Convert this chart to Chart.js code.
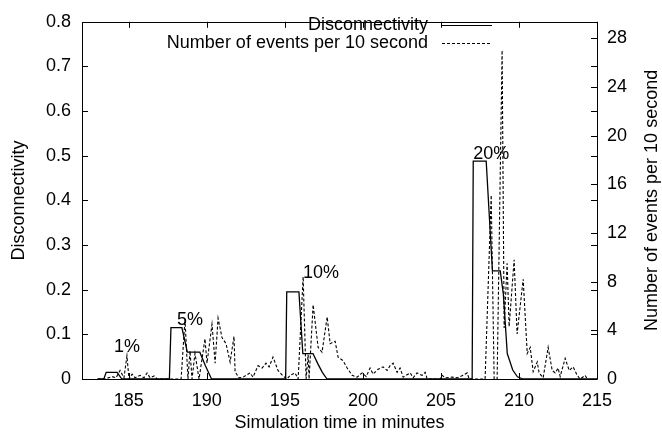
<!DOCTYPE html>
<html>
<head>
<meta charset="utf-8">
<title>Disconnectivity vs events</title>
<script src="https://cdn.jsdelivr.net/npm/chart.js"></script>
<style>
  html, body { margin: 0; padding: 0; background: #fff; }
</style>
</head>
<body>
<canvas id="chart" width="662" height="437"></canvas>
<script>
// solid line, left axis
const discTime  = [183.0, 183.4, 183.55, 184.25, 184.55, 187.6, 187.7, 188.4, 188.75, 189.55, 189.9, 190.3,
                   195.05, 195.12, 195.9, 196.15, 196.8, 197.1, 197.4, 197.7,
                   207.0, 207.07, 207.9, 208.3, 208.8, 209.0, 209.25, 209.6, 209.9, 210.25, 215.0];
const discValue = [0, 0, 0.015, 0.015, 0, 0, 0.115, 0.115, 0.06, 0.06, 0.03, 0,
                   0, 0.195, 0.195, 0.057, 0.057, 0.035, 0.015, 0,
                   0, 0.488, 0.488, 0.242, 0.242, 0.19, 0.057, 0.02, 0.005, 0, 0];

// dashed line, right axis
const eventTime  = [183.0, 183.47, 183.92, 184.18, 184.44, 184.69, 184.88, 185.01, 185.21, 185.40, 185.72, 185.97,
                    186.17, 186.36, 186.62, 186.81, 188.35, 188.60, 188.79, 188.92, 189.05, 189.24, 189.50,
                    189.88, 190.01, 190.33, 190.53, 190.72, 190.97, 191.23, 191.49, 191.74, 191.81, 192.06,
                    192.32, 192.77, 192.96, 193.28, 193.54, 193.79, 193.99, 194.24, 194.56, 194.88, 195.14,
                    195.33, 195.65, 195.85, 196.17, 196.36, 196.49, 196.55, 196.81, 197.13, 197.38, 197.71,
                    197.90, 198.22, 198.41, 198.73, 198.99, 199.31, 199.63, 199.95, 200.21, 200.46, 200.65,
                    200.97, 201.29, 201.55, 201.74, 201.94, 202.19, 202.38, 202.58, 203.03, 203.22, 203.47,
                    203.79, 203.99, 204.12, 204.95, 205.08, 205.27, 205.72, 206.04, 206.42, 206.68, 206.81,
                    207.83, 208.22, 208.41, 208.60, 208.92, 209.05, 209.24, 209.37, 209.69, 209.88, 210.27,
                    210.53, 210.72, 210.91, 211.17, 211.29, 211.55, 211.87, 212.13, 212.32, 212.51, 212.64,
                    212.96, 213.22, 213.47, 213.73, 213.92, 214.24, 214.37];
const eventCount = [0, 0, 0.2, 0.1, 0.7, 0.1, 1.9, 0, 0.4, 0.1, 0.3, 0.1,
                    0.5, 0.1, 0.25, 0, 0, 4.9, 0, 2.3, 0, 2.1, 0,
                    3.3, 1.3, 4.5, 1.3, 5.0, 3.4, 2.9, 1.4, 3.5, 0.6, 0.1,
                    0.15, 0.5, 0.15, 1.1, 0.9, 1.3, 1.0, 1.8, 0.7, 0.25, 0,
                    0.3, 0.5, 0, 8.4, 0, 2.0, 0, 6.1, 2.6, 2.2, 5.1,
                    2.9, 3.1, 1.8, 1.5, 0.9, 0.3, 0.15, 0.5, 0.2, 0.9, 0.4,
                    0.8, 1.0, 0.7, 1.1, 1.3, 0.55, 0.9, 0.15, 0.5, 0.1, 0.5,
                    0.3, 0.55, 0, 0, 0.3, 0.1, 0.15, 0.1, 0.3, 0.5, 0,
                    0, 15.1, 0, 0, 27.0, 4.2, 9.5, 4.3, 9.8, 3.7, 8.2,
                    2.1, 2.6, 0.6, 1.4, 0.5, 0.1, 2.6, 0.7, 0.5, 0.9, 0.2,
                    1.7, 0.7, 1.0, 0.3, 0, 0.3, 0];

const xTicks = [185, 190, 195, 200, 205, 210, 215];
const leftTicks = [0, 0.1, 0.2, 0.3, 0.4, 0.5, 0.6, 0.7, 0.8];
const rightTicks = [0, 4, 8, 12, 16, 20, 24, 28];

const failLabel = ['1%', '5%', '10%', '20%'];
const failTime  = [184.88, 188.92, 197.32, 208.22];
const failLevel = [0.072, 0.131, 0.238, 0.503];

const FONT = '"Liberation Sans", Arial, Helvetica, sans-serif';
const FS = 18;

function pts(xs, ys) {
  return xs.map((x, i) => ({ x: x, y: ys[i] }));
}

const extras = {
  id: 'extras',
  afterDatasetsDraw(chart) {
    const ctx = chart.ctx;
    const a = chart.chartArea;
    const sx = chart.scales.x, sy = chart.scales.y, sy2 = chart.scales.y2;
    ctx.save();
    ctx.strokeStyle = '#000';
    ctx.lineWidth = 1;
    ctx.setLineDash([]);
    ctx.beginPath();
    ctx.rect(Math.round(a.left) + 0.5, Math.round(a.top) + 0.5,
             Math.round(a.right - a.left), Math.round(a.bottom - a.top));
    ctx.stroke();

    // inward tick marks
    ctx.beginPath();
    xTicks.forEach(v => {
      const px = Math.round(sx.getPixelForValue(v)) + 0.5;
      ctx.moveTo(px, a.bottom); ctx.lineTo(px, a.bottom - 6);
      ctx.moveTo(px, a.top); ctx.lineTo(px, a.top + 6);
    });
    leftTicks.forEach(v => {
      const py = Math.round(sy.getPixelForValue(v)) + 0.5;
      ctx.moveTo(a.left, py); ctx.lineTo(a.left + 6, py);
      ctx.moveTo(a.right, py); ctx.lineTo(a.right - 6, py);
    });
    rightTicks.forEach(v => {
      const py = Math.round(sy2.getPixelForValue(v)) + 0.5;
      ctx.moveTo(a.right, py); ctx.lineTo(a.right - 6, py);
    });
    ctx.stroke();

    ctx.fillStyle = '#000';
    ctx.font = FS + 'px ' + FONT;

    // legend
    const rows = [
      { text: 'Disconnectivity', dash: [], y: 25 },
      { text: 'Number of events per 10 second', dash: [3, 2], y: 43 }
    ];
    ctx.textAlign = 'right';
    ctx.textBaseline = 'middle';
    rows.forEach(r => {
      ctx.fillText(r.text, 428, r.y);
      ctx.setLineDash(r.dash);
      ctx.beginPath();
      ctx.moveTo(442, r.y + 0.5);
      ctx.lineTo(492, r.y + 0.5);
      ctx.stroke();
    });
    ctx.setLineDash([]);

    // failure percentage labels
    ctx.textAlign = 'center';
    failLabel.forEach((t, i) => {
      ctx.fillText(t, sx.getPixelForValue(failTime[i]), sy.getPixelForValue(failLevel[i]));
    });

    // right axis title, reading upwards
    ctx.translate(652, (a.top + a.bottom) / 2);
    ctx.rotate(-Math.PI / 2);
    ctx.fillText('Number of events per 10 second', 0, 0);
    ctx.restore();
  }
};

new Chart(document.getElementById('chart'), {
  type: 'line',
  data: {
    datasets: [
      {
        label: 'Disconnectivity',
        data: pts(discTime, discValue),
        yAxisID: 'y',
        borderColor: '#000',
        borderWidth: 1.3,
        pointRadius: 0,
        tension: 0,
        fill: false
      },
      {
        label: 'Number of events per 10 second',
        data: pts(eventTime, eventCount),
        yAxisID: 'y2',
        borderColor: '#000',
        borderWidth: 1.1,
        borderDash: [3, 2],
        pointRadius: 0,
        tension: 0,
        fill: false
      }
    ]
  },
  options: {
    responsive: false,
    animation: false,
    devicePixelRatio: 1,
    layout: { padding: { top: 12, left: 0, right: 0, bottom: 0 } },
    plugins: { legend: { display: false }, tooltip: { enabled: false } },
    scales: {
      x: {
        type: 'linear',
        min: 182,
        max: 215,
        afterBuildTicks: s => { s.ticks = xTicks.map(v => ({ value: v })); },
        afterFit: s => { s.height = 58; },
        grid: { display: false, drawTicks: false },
        border: { display: false },
        ticks: { color: '#000', padding: 11, maxRotation: 0, font: { family: FONT, size: FS } },
        title: { display: true, text: 'Simulation time in minutes', color: '#000',
                 padding: { top: 0, bottom: 3 }, font: { family: FONT, size: FS } }
      },
      y: {
        position: 'left',
        min: 0,
        max: 0.8,
        afterBuildTicks: s => { s.ticks = leftTicks.map(v => ({ value: v })); },
        afterFit: s => { s.width = 82; },
        grid: { display: false, drawTicks: false },
        border: { display: false },
        ticks: { color: '#000', padding: 11, font: { family: FONT, size: FS },
                 callback: v => v === 0 ? '0' : v.toFixed(1) },
        title: { display: true, text: 'Disconnectivity', color: '#000',
                 padding: { top: 8, bottom: 0 }, font: { family: FONT, size: FS } }
      },
      y2: {
        position: 'right',
        min: 0,
        max: 29.35,
        afterBuildTicks: s => { s.ticks = rightTicks.map(v => ({ value: v })); },
        afterFit: s => { s.width = 65; },
        grid: { display: false, drawTicks: false },
        border: { display: false },
        ticks: { color: '#000', padding: 10, font: { family: FONT, size: FS },
                 callback: v => String(v) }
      }
    }
  },
  plugins: [extras]
});
</script>
</body>
</html>
